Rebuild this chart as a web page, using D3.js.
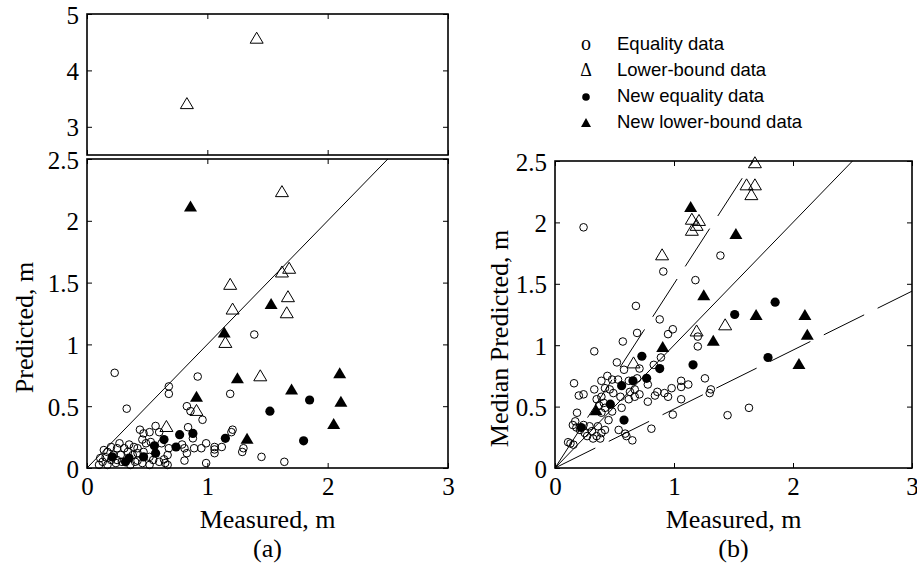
<!DOCTYPE html>
<html>
<head>
<meta charset="utf-8">
<script src="https://cdn.jsdelivr.net/npm/d3@7"></script>
<style>
  html, body { margin: 0; padding: 0; background: #fff; }
  svg { display: block; }
  .tick text { font-family: "Liberation Serif", "Times New Roman", serif; font-size: 25px; fill: #000; }
  .lbl { font-family: "Liberation Serif", "Times New Roman", serif; font-size: 26px; fill: #000; }
  .leg { font-family: "Liberation Sans", Arial, sans-serif; font-size: 18.5px; fill: #000; }
</style>
</head>
<body>
<svg id="chart" width="917" height="566"></svg>
<script>
// ---- Panel (a): measured vs. predicted scour depth (m) ----
const aEquality = [
  [1.39,1.08],[0.23,0.77],[0.92,0.74],[0.68,0.66],[0.68,0.60],[1.19,0.60],[0.33,0.48],[0.83,0.50],
  [0.86,0.46],[0.96,0.39],[0.44,0.31],[0.57,0.34],[0.52,0.29],[0.47,0.28],[0.60,0.29],[0.84,0.33],
  [1.20,0.29],[1.21,0.31],[0.88,0.24],[0.99,0.20],[1.06,0.17],[1.12,0.17],[1.06,0.15],[1.06,0.12],
  [0.95,0.16],[0.89,0.16],[0.81,0.16],[0.79,0.19],[0.81,0.06],[0.99,0.04],[0.83,0.12],[0.68,0.16],
  [0.67,0.105],[0.64,0.07],[0.67,0.025],[0.60,0.05],[0.55,0.065],[0.52,0.09],[0.47,0.13],[0.42,0.16],
  [0.39,0.17],[0.35,0.19],[0.31,0.16],[0.25,0.16],[0.20,0.17],[0.17,0.13],[0.155,0.087],[0.13,0.05],
  [0.17,0.025],[0.24,0.04],[0.29,0.05],[0.36,0.025],[0.42,0.06],[0.46,0.04],[0.52,0.025],[0.28,0.105],
  [0.22,0.105],[0.38,0.105],[0.42,0.12],[0.34,0.13],[0.25,0.065],[0.20,0.065],[0.46,0.23],[0.49,0.20],
  [0.53,0.21],[0.14,0.145],[0.10,0.025],[1.45,0.09],[1.64,0.05],[1.30,0.16],[1.29,0.13],[0.62,0.20],
  [0.65,0.04],[0.11,0.08],[0.27,0.20],[0.40,0.05]
];
const aLowerBound = [
  [1.62,2.24],[1.62,1.59],[1.68,1.62],[1.19,1.49],[1.67,1.39],[1.21,1.29],[1.66,1.26],[1.15,1.02],
  [1.44,0.75],[0.91,0.47],[0.66,0.34],[0.83,3.42],[1.41,4.58]
];
const aNewEquality = [
  [1.52,0.46],[1.85,0.55],[1.80,0.22],[1.15,0.24],[0.88,0.28],[0.77,0.27],[0.74,0.17],[0.64,0.23],
  [0.56,0.18],[0.57,0.12],[0.47,0.09],[0.35,0.08],[0.21,0.09],[0.32,0.05]
];
const aNewLowerBound = [
  [0.86,2.12],[1.53,1.33],[1.14,1.10],[1.25,0.73],[0.91,0.58],[1.70,0.64],[2.10,0.77],[2.11,0.54],
  [2.05,0.36],[1.33,0.24]
];

// ---- Panel (b): measured vs. median predicted scour depth (m) ----
const bEquality = [
  [0.24,1.96],[1.39,1.73],[0.91,1.60],[1.18,1.53],[0.68,1.32],[0.88,1.21],[0.95,1.09],[0.99,1.13],
  [0.69,1.10],[1.20,1.07],[1.20,0.99],[0.57,1.03],[0.33,0.95],[0.52,0.86],[0.58,0.80],[0.71,0.81],
  [0.83,0.84],[0.89,0.90],[0.16,0.69],[0.20,0.59],[0.24,0.60],[0.33,0.64],[0.39,0.71],[0.44,0.75],
  [0.48,0.72],[0.53,0.72],[0.42,0.65],[0.46,0.64],[0.49,0.61],[0.39,0.58],[0.35,0.56],[0.37,0.51],
  [0.41,0.53],[0.42,0.49],[0.55,0.58],[0.62,0.56],[0.56,0.49],[0.63,0.62],[0.67,0.64],[0.71,0.60],
  [0.67,0.58],[0.62,0.71],[0.69,0.73],[0.78,0.68],[0.78,0.54],[0.84,0.59],[0.86,0.62],[0.92,0.61],
  [0.95,0.58],[0.98,0.65],[1.06,0.66],[1.06,0.71],[1.12,0.68],[1.06,0.56],[1.26,0.73],[1.31,0.64],
  [1.30,0.61],[0.99,0.435],[0.81,0.32],[0.59,0.28],[0.65,0.225],[1.45,0.43],[1.63,0.49],[0.15,0.35],
  [0.18,0.33],[0.24,0.35],[0.29,0.34],[0.31,0.30],[0.36,0.34],[0.39,0.285],[0.42,0.31],[0.35,0.26],
  [0.32,0.24],[0.38,0.24],[0.27,0.26],[0.13,0.20],[0.155,0.19],[0.11,0.21],[0.45,0.39],[0.48,0.46],
  [0.39,0.45],[0.185,0.45],[0.17,0.38],[0.25,0.285],[0.60,0.26],[0.535,0.31],[0.21,0.31]
];
const bLowerBound = [
  [1.68,2.49],[1.61,2.31],[1.68,2.31],[1.65,2.23],[1.15,2.03],[1.21,2.02],[1.19,1.98],[1.15,1.94],
  [0.90,1.74],[1.19,1.12],[1.43,1.17],[0.66,0.86]
];
const bNewEquality = [
  [1.85,1.35],[1.51,1.25],[1.79,0.90],[1.16,0.84],[0.73,0.91],[0.88,0.81],[0.77,0.73],[0.655,0.71],
  [0.56,0.67],[0.465,0.52],[0.58,0.39],[0.22,0.33]
];
const bNewLowerBound = [
  [1.14,2.13],[1.52,1.91],[1.25,1.41],[1.69,1.25],[2.10,1.25],[2.12,1.09],[1.33,1.04],[0.905,0.99],
  [2.05,0.85],[0.345,0.475]
];

// Reference lines in panel (b): slopes of y = k * x
const refSlopes = [1, 1.5, 0.48];

const xTicks = [0, 1, 2, 3];
const yTicks = [0, 0.5, 1, 1.5, 2, 2.5];
const yTicksUpper = [3, 4, 5];
const legendLabels = ["Equality data", "Lower-bound data", "New equality data", "New lower-bound data"];

const svg = d3.select("#chart");

// marker helpers
const triPath = (w, h) => `M0,${-h/2}L${w/2},${h/2}L${-w/2},${h/2}Z`;
function drawSeries(g, data, x, y, kind) {
  const sel = g.selectAll(null).data(data).enter();
  if (kind === "openCircle") {
    sel.append("circle").attr("cx", d => x(d[0])).attr("cy", d => y(d[1])).attr("r", 3.8)
      .attr("fill", "none").attr("stroke", "#000").attr("stroke-width", 1);
  } else if (kind === "fillCircle") {
    sel.append("circle").attr("cx", d => x(d[0])).attr("cy", d => y(d[1])).attr("r", 4.6)
      .attr("fill", "#000");
  } else if (kind === "openTri") {
    sel.append("path").attr("d", triPath(13, 11))
      .attr("transform", d => `translate(${x(d[0])},${y(d[1])})`)
      .attr("fill", "none").attr("stroke", "#000").attr("stroke-width", 1);
  } else {
    sel.append("path").attr("d", triPath(13, 11))
      .attr("transform", d => `translate(${x(d[0])},${y(d[1])})`)
      .attr("fill", "#000");
  }
}

// framed axes with inward ticks on all four sides
function frame(x, y, yVals, xVals, showX) {
  const [x0, x1] = x.range();
  const [y0, y1] = y.range();
  const g = svg.append("g");
  const left = g.append("g").attr("transform", `translate(${x0},0)`)
    .call(d3.axisLeft(y).tickValues(yVals).tickSizeInner(-5).tickSizeOuter(0).tickPadding(8).tickFormat(d => String(d)));
  g.append("g").attr("transform", `translate(${x1},0)`)
    .call(d3.axisRight(y).tickValues(yVals).tickSizeInner(-5).tickSizeOuter(0).tickFormat(""));
  g.append("g").attr("transform", `translate(0,${y1})`)
    .call(d3.axisTop(x).tickValues(xVals).tickSizeInner(-5).tickSizeOuter(0).tickFormat(""));
  g.append("g").attr("transform", `translate(0,${y0})`)
    .call(d3.axisBottom(x).tickValues(xVals).tickSizeInner(-5).tickSizeOuter(0).tickPadding(9)
      .tickFormat(showX ? (d => String(d)) : ""));
  g.selectAll(".domain").remove();
  g.selectAll(".tick line").attr("stroke", "#000").attr("stroke-width", 1);
  left.selectAll("text").attr("dy", "0.36em");
  g.append("rect").attr("x", x0).attr("y", y1).attr("width", x1 - x0).attr("height", y0 - y1)
    .attr("fill", "none").attr("stroke", "#000").attr("stroke-width", 1.6);
  return g;
}

// ----- Panel (a) -----
const ax = d3.scaleLinear().domain([0, 3]).range([87, 448]);
const ayLow = d3.scaleLinear().domain([0, 2.5]).range([468, 159]);
const ayUp = d3.scaleLinear().domain([2.5, 5]).range([155, 14]);

frame(ax, ayUp, yTicksUpper, xTicks, false);
frame(ax, ayLow, yTicks, xTicks, true);

const aLine = svg.append("g");
aLine.append("line").attr("x1", ax(0)).attr("y1", ayLow(0)).attr("x2", ax(2.5)).attr("y2", ayLow(2.5))
  .attr("stroke", "#000").attr("stroke-width", 1);

const aPts = svg.append("g");
drawSeries(aPts, aEquality, ax, ayLow, "openCircle");
drawSeries(aPts, aLowerBound.filter(d => d[1] <= 2.5), ax, ayLow, "openTri");
drawSeries(aPts, aLowerBound.filter(d => d[1] > 2.5), ax, ayUp, "openTri");
drawSeries(aPts, aNewEquality, ax, ayLow, "fillCircle");
drawSeries(aPts, aNewLowerBound, ax, ayLow, "fillTri");

svg.append("text").attr("class", "lbl").attr("text-anchor", "middle")
  .attr("transform", `translate(33,${(ayLow(0) + ayLow(2.5)) / 2 + 14}) rotate(-90)`).text("Predicted, m");
svg.append("text").attr("class", "lbl").attr("text-anchor", "middle")
  .attr("x", (ax(0) + ax(3)) / 2).attr("y", 528).text("Measured, m");
svg.append("text").attr("class", "lbl").attr("text-anchor", "middle")
  .attr("x", (ax(0) + ax(3)) / 2).attr("y", 557).text("(a)");

// ----- Panel (b) -----
const bx = d3.scaleLinear().domain([0, 3]).range([555, 912]);
const by = d3.scaleLinear().domain([0, 2.5]).range([468, 161]);

frame(bx, by, yTicks, xTicks, true);

const bLines = svg.append("g");
refSlopes.forEach(k => {
  const xEnd = Math.min(3, 2.5 / k);
  bLines.append("line")
    .attr("x1", bx(0)).attr("y1", by(0)).attr("x2", bx(xEnd)).attr("y2", by(k * xEnd))
    .attr("stroke", "#000").attr("stroke-width", 1)
    .attr("stroke-dasharray", k === 1 ? null : "45,15");
});

const bPts = svg.append("g");
drawSeries(bPts, bEquality, bx, by, "openCircle");
drawSeries(bPts, bLowerBound, bx, by, "openTri");
drawSeries(bPts, bNewEquality, bx, by, "fillCircle");
drawSeries(bPts, bNewLowerBound, bx, by, "fillTri");

svg.append("text").attr("class", "lbl").attr("text-anchor", "middle")
  .attr("transform", `translate(508,${(by(0) + by(2.5)) / 2 + 24}) rotate(-90)`).text("Median Predicted, m");
svg.append("text").attr("class", "lbl").attr("text-anchor", "middle")
  .attr("x", (bx(0) + bx(3)) / 2).attr("y", 528).text("Measured, m");
svg.append("text").attr("class", "lbl").attr("text-anchor", "middle")
  .attr("x", (bx(0) + bx(3)) / 2).attr("y", 557).text("(b)");

// ----- Legend -----
const leg = svg.append("g");
const legY = [49.5, 75.5, 101.5, 127.5];
leg.append("text").attr("class", "lbl").attr("x", 586).attr("y", legY[0]).attr("text-anchor", "middle")
  .style("font-size", "20px").text("o");
leg.append("text").attr("class", "lbl").attr("x", 586).attr("y", legY[1]).attr("text-anchor", "middle")
  .style("font-size", "18px").text("Δ");
leg.append("circle").attr("cx", 586).attr("cy", legY[2] - 4.5).attr("r", 3.8).attr("fill", "#000");
leg.append("path").attr("d", triPath(10, 9)).attr("transform", `translate(586,${legY[3] - 5})`).attr("fill", "#000");
legendLabels.forEach((t, i) => {
  leg.append("text").attr("class", "leg").attr("x", 617).attr("y", legY[i]).text(t);
});
</script>
</body>
</html>
